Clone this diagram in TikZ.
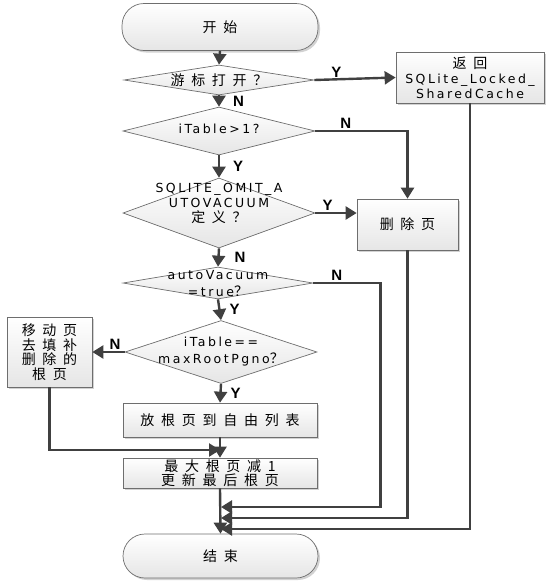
\documentclass[tikz,border=0pt]{standalone}
\usepackage{fontspec}
\setmainfont{DejaVu Sans}[LetterSpace=20]
\newfontfamily\cjk{Noto Sans CJK SC}[LetterSpace=48]
\newfontfamily\labfont{Liberation Sans}
\usetikzlibrary{arrows.meta,shapes.geometric,shadows}
\definecolor{linec}{HTML}{404040}
\definecolor{edgec}{HTML}{6E6E6E}
\tikzset{
  base/.style={draw=edgec, line width=0.7pt, top color=white, bottom color=gray!20, inner sep=0pt},
  boxnode/.style={base, rectangle, drop shadow={shadow xshift=2pt, shadow yshift=-2pt, fill=gray!70, opacity=0.5}},
  term/.style={boxnode, rounded corners=22pt},
  dec/.style={base, diamond},
  txt/.style={align=center, inner sep=0pt, font=\fontsize{12.5}{14.5}\selectfont},
  zh/.style={align=center, inner sep=0pt, font=\cjk\fontsize{14}{14.5}\selectfont},
  lab/.style={font=\labfont\bfseries\fontsize{15}{15}\selectfont, text=black, inner sep=1pt},
  conn/.style={draw=linec, line width=2.4pt, -{Triangle[length=11pt,width=13pt]}},
  plain/.style={draw=linec, line width=2.4pt}
}
\begin{document}
\begin{tikzpicture}[x=1pt,y=-1pt]
\useasboundingbox (0,0) rectangle (555,584);
% shapes
\node[term, minimum width=196pt, minimum height=47pt] (start) at (220,27) {};
\node[zh] (tstart) at (start) {开始};
\node[dec, minimum width=190pt, minimum height=30pt] (d1) at (219,80) {};
\node[zh] (t1) at (d1) {游标打开？};
\node[dec, minimum width=192pt, minimum height=48pt] (d2) at (219,131) {};
\node[txt] (t2) at (219,129) {iTable>1?};
\node[dec, minimum width=192pt, minimum height=70pt] (d3) at (219,213) {};
\node[txt, font=\fontsize{12.5}{15}\selectfont] (t3) at (219,203) {SQLITE\_OMIT\_A\\UTOVACUUM\\{\cjk\fontsize{14}{15}\selectfont 定义？}};
\node[dec, minimum width=190pt, minimum height=32pt] (d4) at (218,283) {};
\node[txt, font=\fontsize{12.5}{17}\selectfont] (t4) at (218,284) {autoVacuum\\={}true{\cjk\fontsize{14}{17}\selectfont ？}};
\node[dec, minimum width=192pt, minimum height=63pt] (d5) at (221,352) {};
\node[txt, font=\fontsize{12.5}{17}\selectfont] (t5) at (221,352) {iTable==\\maxRootPgno{\cjk\fontsize{14}{17}\selectfont ？}};
\node[boxnode, minimum width=148pt, minimum height=51pt] (ret) at (470,77.5) {};
\node[txt, font=\fontsize{12.5}{15}\selectfont] (tret) at (ret) {{\cjk\fontsize{14}{15}\selectfont 返回}\\SQLite\_Locked\_\\SharedCache};
\node[boxnode, minimum width=101pt, minimum height=51pt] (del) at (407.5,224.5) {};
\node[zh] (tdel) at (del) {删除页};
\node[boxnode, minimum width=85pt, minimum height=70pt] (mv) at (49.5,352) {};
\node[zh] (tmv) at (mv) {移动页\\去填补\\删除的\\根页};
\node[boxnode, minimum width=194pt, minimum height=34pt] (put) at (220,420) {};
\node[zh] (tput) at (put) {放根页到自由列表};
\node[boxnode, minimum width=194pt, minimum height=30pt] (max) at (220,473) {};
\node[zh] (tmax) at (max) {最大根页减1\\更新最后根页};
\node[term, minimum width=195pt, minimum height=44pt] (end) at (220.5,556) {};
\node[zh] (tend) at (end) {结束};
% junctions
\coordinate (j0) at (220,450);
\coordinate (j1) at (221,507);
\coordinate (j2) at (221,518);
\coordinate (j3) at (221,529);
% connectors
\draw[conn] (start.south) -- (d1.north);
\draw[conn] (d1.south) -- node[lab, anchor=west, xshift=12pt]{N} (d2.north);
\draw[conn] (d1.east) -- node[lab, above, pos=0.27]{Y} (ret.west);
\draw[conn] (d2.south) -- node[lab, anchor=west, xshift=12pt]{Y} (d3.north);
\draw[conn] (d2.east) -- node[lab, above, pos=0.33]{N} (d2.east -| del.north) -- (del.north);
\draw[conn] (d3.south) -- node[lab, anchor=west, xshift=14pt]{N} (d4.north);
\draw[conn] (d3.east) -- node[lab, above, pos=0.3]{Y} (d3.east -| del.west);
\draw[conn] (d4.south) -- node[lab, anchor=west, xshift=8pt]{Y} (d5.north);
\draw[conn] (d4.east) -- node[lab, above, pos=0.35]{N} ++(67,0) |- (j1);
\draw[conn] (d5.south) -- node[lab, anchor=west, xshift=8pt]{Y} (put.north);
\draw[conn] (d5.west) -- node[lab, above, pos=0.3]{N} (mv.east);
\draw[conn] (put.south) -- (max.north);
\draw[conn] (mv.south) |- (j0);
\draw[conn] (del.south) |- (j2);
\draw[conn] (ret.south) |- (j3);
\draw[conn] (max.south) -- (end.north);
\end{tikzpicture}
\end{document}
